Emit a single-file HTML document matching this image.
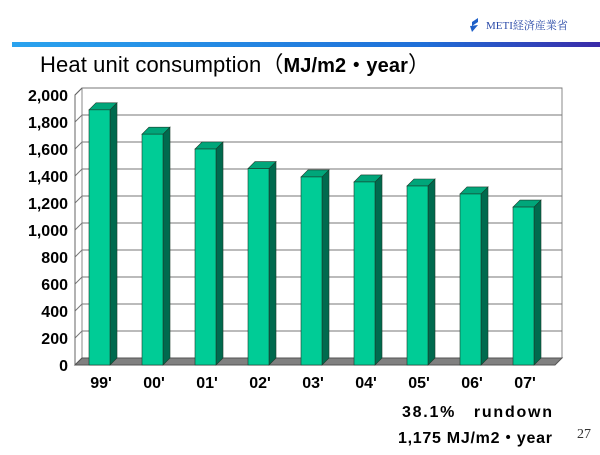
<!DOCTYPE html>
<html><head><meta charset="utf-8"><style>
body{margin:0;width:600px;height:450px;background:#fff;overflow:hidden;font-family:"Liberation Sans","Noto Sans CJK JP",sans-serif;}
</style></head><body>
<svg width="600" height="450">
<defs><linearGradient id="hb" x1="0" x2="1"><stop offset="0" stop-color="#2aa3ee"/><stop offset="0.7" stop-color="#1f6fd8"/><stop offset="1" stop-color="#3a2aa8"/></linearGradient></defs>
<g>
<path d="M472 22 l6 -4 l0 4 l-6 4z M470 26 l8 -1 l-6 7z" fill="#1e5fc8"/>
<text x="486" y="29" font-family="Liberation Serif,'Noto Serif CJK SC',serif" font-size="11" fill="#2a4aa8">METI経済産業省</text>
</g>
<rect x="12" y="42" width="588" height="5" fill="url(#hb)"/>
<text x="40" y="72" font-size="22" fill="#000" textLength="390">Heat unit consumption（<tspan font-weight="bold" font-size="20">MJ/m2・year</tspan>）</text>
<g id="chart"></g>
<text x="402" y="417" font-size="16" font-weight="bold" textLength="150">38.1%　rundown</text>
<text x="398" y="443" font-size="16" font-weight="bold" textLength="154">1,175 MJ/m2・year</text>
<text x="577" y="438" font-family="Liberation Serif,serif" font-size="14" fill="#333">27</text>
</svg>
<script>
const categories=["99'","00'","01'","02'","03'","04'","05'","06'","07'"];
const values=[1890,1710,1600,1455,1393,1356,1326,1267,1170];
const ticks=[0,200,400,600,800,1000,1200,1400,1600,1800,2000];
const NS="http://www.w3.org/2000/svg";
const g=document.getElementById('chart');
const y0=365,k=0.135,dx=7,dy=-7,x0=75,x1=555;
function y(v){return y0-v*k;}
function xb(i){return 89+i*53;}
function mk(t,a,p){const e=document.createElementNS(NS,t);for(const q in a)e.setAttribute(q,a[q]);(p||g).appendChild(e);return e;}
const wall=mk('rect',{x:x0+dx,y:y(2000)+dy,width:x1-x0,height:2000*k,fill:'#fff',stroke:'#888'});


ticks.forEach(t=>{
 const l=mk('polyline',{points:`${x0},${y(t)} ${x0+dx},${y(t)+dy} ${x1+dx},${y(t)+dy}`,fill:'none',stroke:'#777','stroke-width':1});
 
 
 const tx=mk('text',{x:68,y:y(t)+6,'text-anchor':'end','font-size':16,'font-weight':'bold'});
 tx.textContent=t.toLocaleString('en-US');
 
 
});
const ax=mk('polyline',{points:`${x0+dx},${y(2000)+dy} ${x0},${y(2000)} ${x0},${y0}`,fill:'none',stroke:'#666'});


const fl=mk('polygon',{points:`${x0},${y0} ${x0+dx},${y0+dy} ${x1+dx},${y0+dy} ${x1},${y0}`,fill:'#808080',stroke:'#555'});


values.forEach((v,i)=>{
 const bx=xb(i),w=21,top=y(v);
 const bg=mk('g',{});
 
 
 mk('polygon',{points:`${bx+w},${top} ${bx+w+dx},${top+dy} ${bx+w+dx},${y0+dy} ${bx+w},${y0}`,fill:'#006a4e',stroke:'#1a3a2a','stroke-width':0.6},bg);
 mk('polygon',{points:`${bx},${top} ${bx+dx},${top+dy} ${bx+w+dx},${top+dy} ${bx+w},${top}`,fill:'#00a67a',stroke:'#1a3a2a','stroke-width':0.6},bg);
 mk('rect',{x:bx,y:top,width:w,height:y0-top,fill:'#00cc96',stroke:'#1a3a2a','stroke-width':0.6},bg);
 const tx=mk('text',{x:bx+12,y:388,'text-anchor':'middle','font-size':16,'font-weight':'bold'});
 tx.textContent=categories[i];
 
 
});
</script>
</body></html>
